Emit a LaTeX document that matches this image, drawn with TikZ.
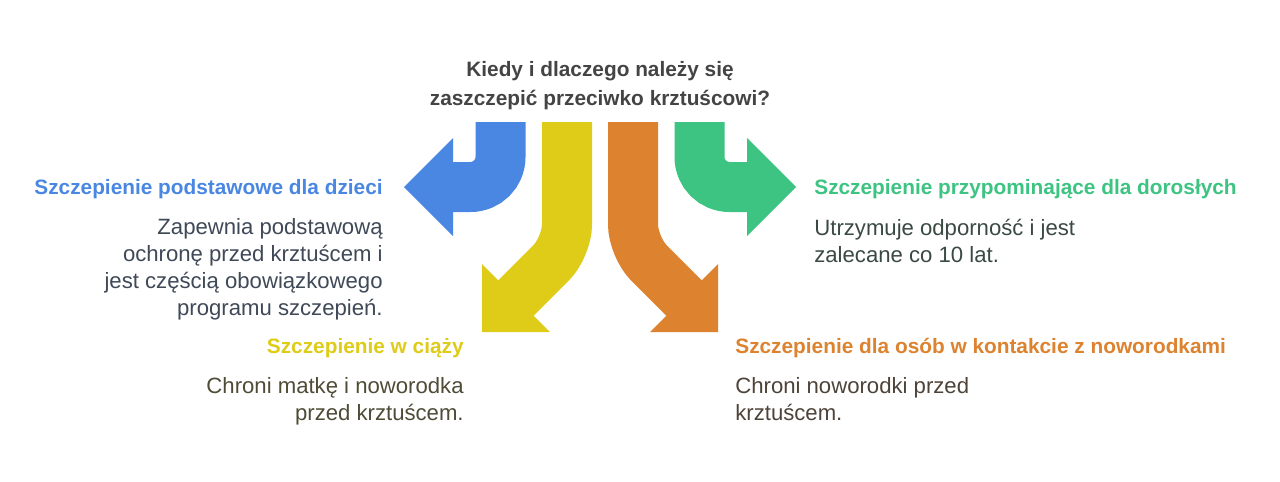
\documentclass[tikz,border=0pt]{standalone}
\usepackage{fontspec}
\setmainfont{Liberation Sans}
\usepackage{tikz}
\definecolor{vblue}{HTML}{4A87E3}
\definecolor{vyellow}{HTML}{DECC18}
\definecolor{vorange}{HTML}{DD8330}
\definecolor{vgreen}{HTML}{3EC482}
\definecolor{vtitle}{HTML}{444444}
\tikzset{
  shaft/.style={line width=1cm},
  head/.style={font=\bfseries\fontsize{11.85}{16.5}\selectfont, inner sep=0pt},
  body/.style={font=\fontsize{12.6}{15.2}\selectfont, inner sep=0pt},
}
\def\arrowhead[#1](#2)(#3)(#4){\fill[#1] (#2) -- (#3) -- (#4) -- cycle;}

\begin{document}
\begin{tikzpicture}[x=0.02cm, y=-0.02cm]
			%%%%% START %%%%%
			\useasboundingbox[fill=white] (0, 0) rectangle (1280, 481);
			
			\node[head, vtitle, align=center, anchor=base] (title) at (600, 105) {Kiedy i dlaczego należy się\\zaszczepić przeciwko krztuścowi?};
			
			\draw[shaft, vblue, rounded corners=0.6cm] (500.5, 122) -- (500.5, 187) -- (452, 187);
			\arrowhead[vblue](453, 138)(404, 187)(453, 236);
			
			\draw[shaft, vyellow, rounded corners=0.45cm] (567, 122) -- (567, 247) -- (515, 299);
			\arrowhead[vyellow](482, 264)(482, 332)(550, 332);
			
			\draw[shaft, vorange, rounded corners=0.45cm] (633, 122) -- (633, 247) -- (685, 299);
			\arrowhead[vorange](718, 264)(718, 332)(650, 332);
			
			\draw[shaft, vgreen, rounded corners=0.6cm] (699.5, 122) -- (699.5, 187) -- (748, 187);
			\arrowhead[vgreen](747, 138)(796, 187)(747, 236);
			
			\node[head, vblue, anchor=base east] (kids) at (383, 194) {Szczepienie podstawowe dla dzieci};
			\node[body, color=vblue!20!black!80, align=right, anchor=base east] (kidstext) at (383, 315) {Zapewnia podstawową\\ochronę przed krztuścem i\\jest częścią obowiązkowego\\programu szczepień.};
			
			\node[head, vyellow, anchor=base east] (preg) at (464, 353) {Szczepienie w ciąży};
			\node[body, color=vyellow!15!black!80, align=right, anchor=base east] (pregtext) at (464, 420) {Chroni matkę i noworodka\\przed krztuścem.};
			
			\node[head, vgreen, anchor=base west] (adult) at (814, 194) {Szczepienie przypominające dla dorosłych};
			\node[body, color=vgreen!15!black!80, align=left, anchor=base west] (adulttext) at (814, 262) {Utrzymuje odporność i jest\\zalecane co 10 lat.};
			
			\node[head, vorange, anchor=base west] (contact) at (735, 353) {Szczepienie dla osób w kontakcie z noworodkami};
			\node[body, color=vorange!15!black!80, align=left, anchor=base west] (contacttext) at (735, 420) {Chroni noworodki przed\\krztuścem.};
			%%%%% END %%%%%
\end{tikzpicture}
\end{document}
